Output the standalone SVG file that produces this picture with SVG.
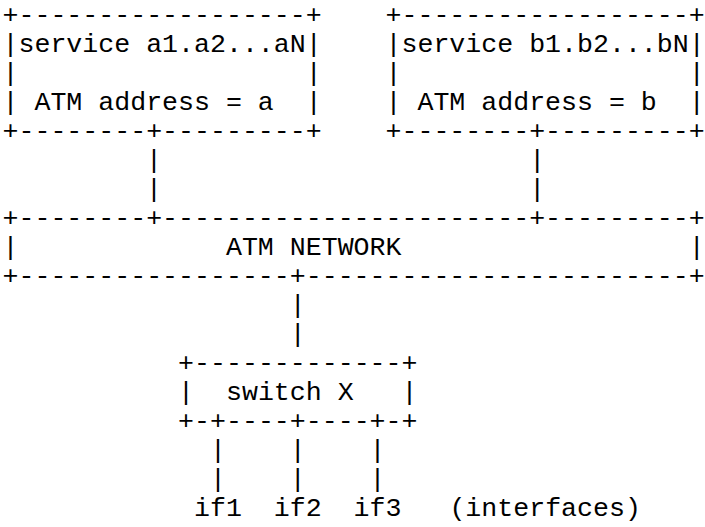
<svg xmlns="http://www.w3.org/2000/svg" width="705" height="527" viewBox="0 0 705 527">
<style>
text{font-family:"Liberation Mono","Courier New",monospace;font-size:26.6px;fill:#000;white-space:pre}
</style>
<rect width="705" height="527" fill="#fff"/>
<g id="service-a">
<text x="2.5" y="23">+------------------+</text>
<text x="2.5" y="52">|service a1.a2...aN|</text>
<text x="2.5" y="81">|                  |</text>
<text x="2.5" y="110">| ATM address = a  |</text>
<text x="2.5" y="139">+--------+---------+</text>
</g>
<g id="service-b">
<text x="385.5" y="23">+------------------+</text>
<text x="385.5" y="52">|service b1.b2...bN|</text>
<text x="385.5" y="81">|                  |</text>
<text x="385.5" y="110">| ATM address = b  |</text>
<text x="385.5" y="139">+--------+---------+</text>
</g>
<g id="atm-network">
<text x="2.5" y="226">+--------+-----------------------+---------+</text>
<text x="2.5" y="255">|             ATM NETWORK                  |</text>
<text x="2.5" y="284">+-----------------+------------------------+</text>
</g>
<g id="switch-x">
<text x="178.1" y="371">+-------------+</text>
<text x="178.1" y="400">|  switch X   |</text>
<text x="178.1" y="429">+-+----+----+-+</text>
</g>
<g id="connectors">
<text x="146.1" y="168">|</text>
<text x="146.1" y="197">|</text>
<text x="529.2" y="168">|</text>
<text x="529.2" y="197">|</text>
<text x="289.8" y="313">|</text>
<text x="289.8" y="342">|</text>
<text x="210" y="458">|</text>
<text x="210" y="487">|</text>
<text x="289.8" y="458">|</text>
<text x="289.8" y="487">|</text>
<text x="369.6" y="458">|</text>
<text x="369.6" y="487">|</text>
</g>
<g id="interfaces">
<text x="194" y="516">if1</text>
<text x="273.8" y="516">if2</text>
<text x="353.6" y="516">if3</text>
<text x="449.4" y="516">(interfaces)</text>
</g>
</svg>
